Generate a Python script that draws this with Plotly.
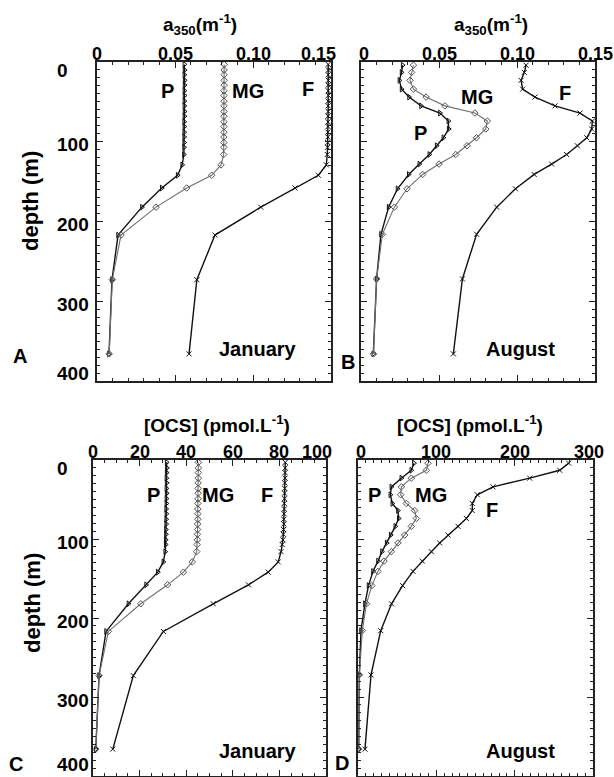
import plotly.graph_objects as go

W, H = 614, 777
FONT = "Liberation Sans, Arial, Helvetica, sans-serif"


def px(x):
    return x / W


def py(y):
    return 1 - y / H


# ---------------- data ----------------
jan_depth = [3, 10, 16, 23, 29, 36, 42, 49, 55, 62, 68, 75, 81, 88, 94, 101, 107,
             116, 129, 142, 158, 182, 217, 273, 366]
aug_depth = [4, 13, 23, 34, 44, 55, 64, 74, 84, 95, 105, 116, 128, 141, 159, 182,
             216, 272, 366]

# a350 (m-1), January
a_jan_P = [0.0560, 0.0561, 0.0560, 0.0562, 0.0561, 0.0560, 0.0561, 0.0560, 0.0560,
           0.0561, 0.0560, 0.0559, 0.0560, 0.0559, 0.0559, 0.0559, 0.0558,
           0.0557, 0.0546, 0.0517, 0.0415, 0.0288, 0.0135, 0.0096, 0.0077]
a_jan_MG = [0.0815, 0.0815, 0.0815, 0.0815, 0.0815, 0.0814, 0.0814, 0.0814, 0.0814,
            0.0814, 0.0814, 0.0814, 0.0814, 0.0814, 0.0813, 0.0813, 0.0813,
            0.0812, 0.0795, 0.0735, 0.0575, 0.0378, 0.0154, 0.0098, 0.0078]
a_jan_F = [0.1482, 0.1483, 0.1482, 0.1483, 0.1482, 0.1482, 0.1483, 0.1482, 0.1482,
           0.1482, 0.1481, 0.1481, 0.1481, 0.1480, 0.1480, 0.1479, 0.1478,
           0.1476, 0.1470, 0.1419, 0.1269, 0.1050, 0.0756, 0.0640, 0.0590]

# a350 (m-1), August
a_aug_P = [0.0267, 0.0260, 0.0246, 0.0260, 0.0308, 0.0385, 0.0506, 0.0560, 0.0562,
           0.0528, 0.0485, 0.0438, 0.0374, 0.0306, 0.0234, 0.0177, 0.0128, 0.0100,
           0.0079]
a_aug_MG = [0.0336, 0.0325, 0.0314, 0.0336, 0.0417, 0.0538, 0.0730, 0.0810, 0.0800,
            0.0740, 0.0680, 0.0607, 0.0500, 0.0395, 0.0295, 0.0214, 0.0137, 0.0100,
            0.0080]
a_aug_F = [0.1058, 0.1047, 0.1026, 0.1036, 0.1115, 0.1244, 0.1404, 0.1483, 0.1479,
           0.1447, 0.1387, 0.1318, 0.1222, 0.1110, 0.0990, 0.0870, 0.0741, 0.0650,
           0.0592]

# [OCS] (pmol/L), January
ocs_jan_P = [31.6, 31.7, 31.6, 31.5, 31.6, 31.5, 31.6, 31.5, 31.5, 31.4, 31.5, 31.4,
             31.4, 31.3, 31.3, 31.2, 31.2, 31.0, 30.2, 27.8, 22.8, 15.2, 5.6, 2.6, 1.2]
ocs_jan_MG = [45.2, 45.2, 45.2, 45.2, 45.1, 45.1, 45.1, 45.1, 45.0, 45.0, 45.0, 45.0,
              44.9, 44.9, 44.8, 44.8, 44.7, 44.5, 42.6, 38.8, 32.0, 20.5, 6.6, 2.6, 1.2]
ocs_jan_F = [82.5, 82.5, 82.4, 82.4, 82.3, 82.3, 82.2, 82.2, 82.1, 82.1, 82.0, 81.9,
             81.9, 81.8, 81.7, 81.5, 81.2, 80.7, 79.5, 75.2, 66.7, 51.6, 30.2, 17.3, 8.5]

# [OCS] (pmol/L), August
ocs_aug_P = [71.5, 68.0, 55.3, 42.6, 41.3, 43.8, 51.0, 52.0, 47.6, 41.7, 36.6, 30.6,
             25.5, 19.1, 13.4, 8.8, 3.8, 1.7, 0.9]
ocs_aug_MG = [89.4, 87.2, 68.0, 55.3, 54.5, 61.7, 72.3, 74.5, 68.0, 59.6, 51.0, 42.6,
              33.2, 25.5, 17.6, 10.8, 5.5, 1.7, 0.9]
ocs_aug_F = [269.0, 257.5, 219.2, 172.3, 152.3, 145.9, 145.9, 138.3, 127.7, 114.9,
             104.3, 93.6, 82.1, 70.2, 56.9, 42.8, 29.0, 16.6, 8.9]

series_names = ["P", "MG", "F"]

# tick values / labels
a_tickvals = [0, 0.05, 0.10, 0.15]
a_ticktext = ["0", "0.05", "0.10", "0.15"]
ocs_jan_tickvals = [0, 20, 40, 60, 80, 100]
ocs_jan_ticktext = ["0", "20", "40", "60", "80", "100"]
ocs_aug_tickvals = [0, 100, 200, 300]
ocs_aug_ticktext = ["0", "100", "200", "300"]
depth_tickvals = [0, 100, 200, 300, 400]
depth_ticktext = ["0", "100", "200", "300", "400"]

# ---------------- layout geometry (pixels) ----------------
panels = [
    dict(key="A", xr=[0, 0.15], xs=(97, 331), ys=(62, 381), depth=jan_depth,
         data=[a_jan_P, a_jan_MG, a_jan_F], xminor=0.01,
         tv=a_tickvals, tt=a_ticktext, ylabels=True, end_shift=(0, -13), yl_end=8),
    dict(key="B", xr=[0, 0.15], xs=(361, 595), ys=(62, 381), depth=aug_depth,
         data=[a_aug_P, a_aug_MG, a_aug_F], xminor=0.01,
         tv=a_tickvals, tt=a_ticktext, ylabels=False, end_shift=(3, 0), yl_end=8),
    dict(key="C", xr=[0, 100], xs=(93, 326), ys=(460, 776), depth=jan_depth,
         data=[ocs_jan_P, ocs_jan_MG, ocs_jan_F], xminor=5,
         tv=ocs_jan_tickvals, tt=ocs_jan_ticktext, ylabels=True, end_shift=(0, -9),
         yl_end=12),
    dict(key="D", xr=[0, 300], xs=(358, 593), ys=(460, 776), depth=aug_depth,
         data=[ocs_aug_P, ocs_aug_MG, ocs_aug_F], xminor=10,
         tv=ocs_aug_tickvals, tt=ocs_aug_ticktext, ylabels=False, end_shift=(3, -4),
         yl_end=12),
]

styles = {
    "P": dict(line=dict(color="#111111", width=1.4),
              marker=dict(symbol="triangle-right-open", size=5, color="#111111",
                          line=dict(width=1, color="#111111"))),
    "MG": dict(line=dict(color="#707070", width=1.1),
               marker=dict(symbol="diamond-open", size=5, color="#555555",
                           line=dict(width=1, color="#555555"))),
    "F": dict(line=dict(color="#111111", width=1.4),
              marker=dict(symbol="x-thin", size=5, color="#111111",
                          line=dict(width=1, color="#111111"))),
}

fig = go.Figure()
AX = "#222222"
layout = dict(
    width=W, height=H,
    margin=dict(l=0, r=0, t=0, b=0),
    paper_bgcolor="white", plot_bgcolor="white",
    showlegend=False,
)

annotations = []

for i, p in enumerate(panels, start=1):
    xa = "x" if i == 1 else f"x{i}"
    ya = "y" if i == 1 else f"y{i}"
    for name, vals in zip(series_names, p["data"]):
        st = styles[name]
        fig.add_trace(go.Scatter(x=vals, y=p["depth"], mode="lines+markers",
                                 name=name, xaxis=xa, yaxis=ya,
                                 line=st["line"], marker=st["marker"],
                                 hoverinfo="skip"))
    xdom = [px(p["xs"][0]), px(p["xs"][1])]
    ydom = [py(p["ys"][1]), py(p["ys"][0])]
    layout["xaxis" if i == 1 else f"xaxis{i}"] = dict(
        domain=xdom, range=p["xr"], anchor=ya, side="top",
        showline=True, linecolor=AX, linewidth=1.6, mirror="ticks",
        ticks="inside", ticklen=6, tickwidth=1.3, tickcolor=AX,
        tickmode="array", tickvals=p["tv"], showticklabels=False,
        minor=dict(ticks="inside", ticklen=3, tickwidth=1, tickcolor=AX,
                   tickmode="linear", tick0=0, dtick=p["xminor"], showgrid=False),
        showgrid=False, zeroline=False, fixedrange=True,
    )
    layout["yaxis" if i == 1 else f"yaxis{i}"] = dict(
        domain=ydom, range=[400, 0], anchor=xa,
        showline=True, linecolor=AX, linewidth=1.6, mirror="ticks",
        ticks="inside", ticklen=6, tickwidth=1.3, tickcolor=AX,
        tickmode="array", tickvals=depth_tickvals, showticklabels=False,
        minor=dict(ticks="inside", ticklen=3, tickwidth=1, tickcolor=AX,
                   tickmode="linear", tick0=0, dtick=10, showgrid=False),
        showgrid=False, zeroline=False, fixedrange=True,
    )
    # top x tick labels (positioned through the x axis scale)
    label_y = py(p["ys"][0] - 8)
    n = len(p["tv"])
    for k, (v, t) in enumerate(zip(p["tv"], p["tt"])):
        xs = p["end_shift"][0] if k == 0 else (p["end_shift"][1] if k == n - 1 else 0)
        annotations.append(dict(
            x=v, xref=xa, y=label_y, yref="paper", xshift=xs,
            text=f"<b>{t}</b>", showarrow=False, xanchor="center", yanchor="middle",
            font=dict(family=FONT, size=18, color="black")))
    if p["ylabels"]:
        for v, t in zip(depth_tickvals, depth_ticktext):
            shift = -8 if v == depth_tickvals[0] else (p["yl_end"] if v == depth_tickvals[-1] else -3)
            annotations.append(dict(
                x=px(55), xref="paper", y=v, yref=ya, yshift=shift,
                text=f"<b>{t}</b>", showarrow=False, xanchor="left", yanchor="middle",
                font=dict(family=FONT, size=19, color="black")))


def txt(x, y, s, size=20, angle=0):
    annotations.append(dict(x=px(x), y=py(y), xref="paper", yref="paper",
                            text=s, showarrow=False, xanchor="center",
                            yanchor="middle", textangle=angle,
                            font=dict(family=FONT, size=size, color="black")))


a_title = "<b>a<sub>350</sub>(m<sup>-1</sup>)</b>"
ocs_title = "<b>[OCS] (pmol.L<sup>-1</sup>)</b>"
txt(200, 24, a_title, 19)
txt(491, 24, a_title, 19)
txt(217, 424, ocs_title, 19)
txt(470, 424, ocs_title, 19)

txt(31, 201, "<b>depth (m)</b>", 22, -90)
txt(32, 603, "<b>depth (m)</b>", 22, -90)

# curve labels
txt(167, 91, "<b>P</b>")
txt(248, 91, "<b>MG</b>")
txt(308, 89, "<b>F</b>")
txt(420, 133, "<b>P</b>")
txt(477, 97, "<b>MG</b>")
txt(565, 93, "<b>F</b>")
txt(153, 495, "<b>P</b>")
txt(218, 495, "<b>MG</b>")
txt(267, 495, "<b>F</b>")
txt(374, 495, "<b>P</b>")
txt(431, 495, "<b>MG</b>")
txt(492, 510, "<b>F</b>")

# month labels
txt(258, 349, "<b>January</b>")
txt(520, 349, "<b>August</b>")
txt(258, 751, "<b>January</b>")
txt(520, 751, "<b>August</b>")

# panel letters
txt(20, 356, "<b>A</b>")
txt(348, 362, "<b>B</b>")
txt(16, 764, "<b>C</b>")
txt(342, 763, "<b>D</b>")

layout["annotations"] = annotations
fig.update_layout(**layout)
fig.write_html("out.html")
